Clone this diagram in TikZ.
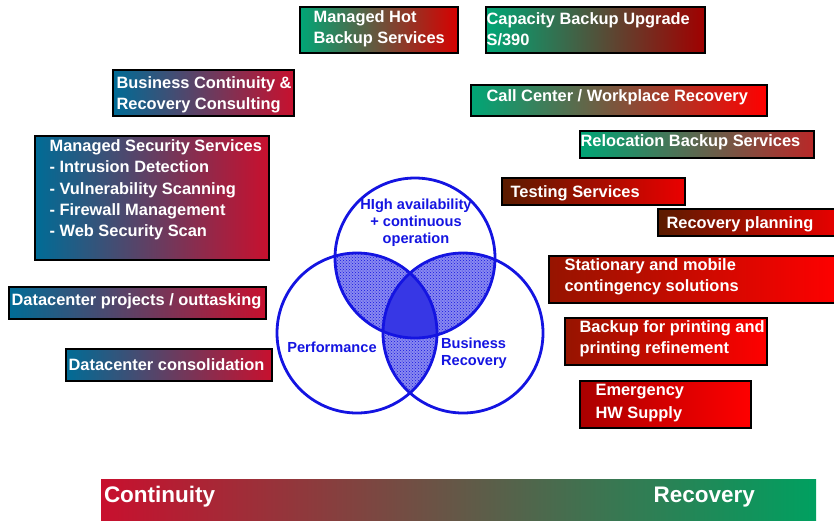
\documentclass[tikz,border=0pt]{standalone}
\usepackage{fontspec}
\setmainfont{Liberation Sans}
\usetikzlibrary{positioning,patterns}

\definecolor{hagreen}{RGB}{0,166,118}
\definecolor{hablue}{RGB}{0,108,150}
\definecolor{hared}{RGB}{200,16,46}
\definecolor{habrown}{RGB}{90,28,0}
\definecolor{hotred}{RGB}{215,0,0}
\definecolor{cbured}{RGB}{160,0,0}
\definecolor{brightred}{RGB}{255,0,0}
\definecolor{relocred}{RGB}{185,40,40}
\definecolor{statdark}{RGB}{150,20,0}
\definecolor{emergdark}{RGB}{170,0,0}
\definecolor{vennblue}{RGB}{20,20,225}
\definecolor{bargreen}{RGB}{0,160,96}

\begin{document}
\begin{tikzpicture}
[x=1pt, y=-1pt,
 box/.style={draw=black, line width=1.2pt, inner sep=0pt},
 boxtext/.style={inner sep=0pt, text=white, align=left, font=\bfseries\fontsize{16.4}{21.3}\selectfont},
 venn/.style={draw=vennblue, line width=2.8pt},
 venntext/.style={inner sep=0pt, text=vennblue, font=\bfseries\fontsize{14.6}{17}\selectfont},
 bartext/.style={inner sep=0pt, text=white, font=\bfseries\fontsize{22.5}{26}\selectfont}]
\useasboundingbox (0,0) rectangle (834,520);

% service boxes
\node[box, left color=hagreen, right color=hotred, minimum width=158pt, minimum height=46pt] (hot) at (379,30) {};
\node[box, left color=hagreen, right color=cbured, minimum width=219pt, minimum height=46pt] (cbu) at (595.5,30) {};
\node[box, left color=hablue, right color=hared, minimum width=181pt, minimum height=46pt] (bcrc) at (203.5,93) {};
\node[box, left color=hagreen, right color=brightred, minimum width=296pt, minimum height=31pt] (call) at (619,100.5) {};
\node[box, left color=hablue, right color=hared, minimum width=234pt, minimum height=124pt] (mss) at (152,198) {};
\node[box, left color=hagreen, right color=relocred, minimum width=234pt, minimum height=27pt] (reloc) at (697,144.5) {};
\node[box, left color=habrown, right color=brightred!92!black, minimum width=183pt, minimum height=27pt] (test) at (593.5,191.5) {};
\node[box, left color=habrown, right color=brightred!92!black, minimum width=182pt, minimum height=27pt] (plan) at (749,222.5) {};
\node[box, left color=hablue, right color=hared, minimum width=257pt, minimum height=32pt] (dcp) at (137.5,303) {};
\node[box, left color=statdark, right color=brightred, minimum width=291pt, minimum height=47pt] (stat) at (694.5,279.5) {};
\node[box, left color=statdark, right color=brightred, minimum width=202pt, minimum height=47pt] (print) at (666,341.5) {};
\node[box, left color=hablue, right color=hared, minimum width=206pt, minimum height=32pt] (dcc) at (169,365) {};
\node[box, left color=emergdark, right color=brightred, minimum width=171pt, minimum height=47pt] (emerg) at (665.5,404.5) {};

% box texts
\node[boxtext, right=14pt of hot.west, yshift=1pt] (hottext) {Managed Hot\\Backup Services};
\node[boxtext, right=1pt of cbu.west, yshift=1pt] (cbutext) {Capacity Backup Upgrade\\S/390};
\node[boxtext, right=4pt of bcrc.west, yshift=-2pt] (bcrctext) {Business Continuity \&\\Recovery Consulting};
\node[boxtext, right=16pt of call.west, yshift=3pt] (calltext) {Call Center / Workplace Recovery};
\node[boxtext, right=15pt of mss.west, yshift=8pt] (msstext) {Managed Security Services\\- Intrusion Detection\\- Vulnerability Scanning\\- Firewall Management\\- Web Security Scan};
\node[boxtext, right=1pt of reloc.west, yshift=2pt] (reloctext) {Relocation Backup Services};
\node[boxtext, right=9pt of test.west, yshift=-1.5pt] (testtext) {Testing Services};
\node[boxtext, right=9pt of plan.west, yshift=-1.5pt] (plantext) {Recovery planning};
\node[boxtext, right=3pt of dcp.west, yshift=1.5pt] (dcptext) {Datacenter projects / outtasking};
\node[boxtext, right=16pt of stat.west, yshift=2.5pt] (stattext) {Stationary and mobile\\contingency solutions};
\node[boxtext, right=15pt of print.west, yshift=2.5pt] (printtext) {Backup for printing and\\printing refinement};
\node[boxtext, right=3pt of dcc.west, yshift=0pt] (dcctext) {Datacenter consolidation};
\node[boxtext, right=16pt of emerg.west, yshift=1.5pt] (emergtext) {Emergency\\[1pt]HW Supply};

% venn diagram
\coordinate (ctop) at (415,258);
\coordinate (cleft) at (357,333);
\coordinate (cright) at (463,333);
\foreach \a/\b in {ctop/cleft,ctop/cright,cleft/cright}
{
  \begin{scope}
    \clip (\a) circle[radius=80pt];
    \fill[vennblue!50] (\b) circle[radius=80pt];
    \fill[pattern=crosshatch dots, pattern color=vennblue] (\b) circle[radius=80pt];
  \end{scope}
}
\begin{scope}
  \clip (ctop) circle[radius=80pt];
  \clip (cleft) circle[radius=80pt];
  \fill[vennblue!85] (cright) circle[radius=80pt];
\end{scope}
\foreach \c in {ctop,cleft,cright}
  \draw[venn] (\c) circle[radius=80pt];

\node[venntext, align=center] (hightext) at (416,223) {HIgh availability\\+ continuous\\operation};
\node[venntext] (perftext) at (332,347) {Performance};
\node[venntext, align=left] (brtext) at (474,353) {Business\\Recovery};

% continuity / recovery bar
\node[inner sep=0pt, left color=hared, right color=bargreen, minimum width=715pt, minimum height=42pt] (bar) at (458.5,500) {};
\node[bartext, right=3pt of bar.west, yshift=3pt] (conttext) {Continuity};
\node[bartext, left=61pt of bar.east, yshift=3pt] (rectext) {Recovery};
\end{tikzpicture}
\end{document}
